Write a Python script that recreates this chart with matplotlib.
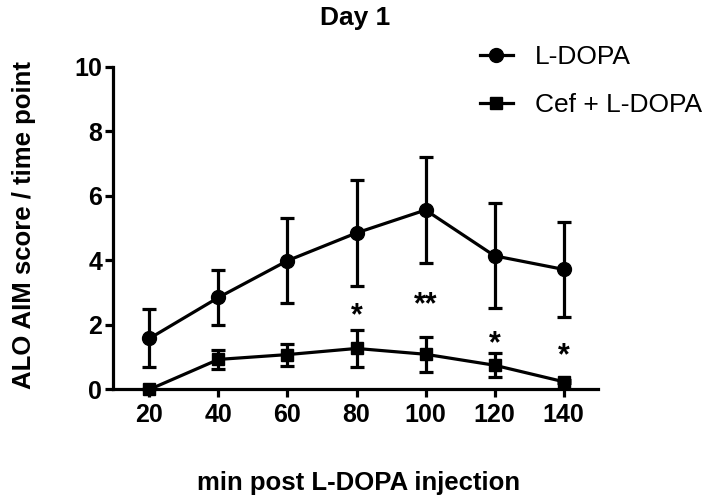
import matplotlib
matplotlib.use("Agg")
import matplotlib.pyplot as plt
from matplotlib.lines import Line2D

plt.rcParams['font.family'] = ['Liberation Sans', 'DejaVu Sans']

minutes = [20, 40, 60, 80, 100, 120, 140]
ldopa_mean = [1.58, 2.85, 3.99, 4.85, 5.56, 4.14, 3.72]
ldopa_err = [0.90, 0.85, 1.31, 1.63, 1.65, 1.63, 1.46]
cef_mean = [0.0, 0.93, 1.08, 1.27, 1.09, 0.75, 0.24]
cef_err = [0.0, 0.30, 0.34, 0.57, 0.54, 0.37, 0.05]
sig_x = [80, 100, 120, 140]
sig_labels = ["*", "**", "*", "*"]
sig_y = [2.26, 2.61, 1.40, 1.02]
xticks = [20, 40, 60, 80, 100, 120, 140]
yticks = [0, 2, 4, 6, 8, 10]

fig = plt.figure(figsize=(7.12, 4.98), dpi=100)
ax = fig.add_axes([0.159, 0.218, 0.681, 0.648])

lw = 2.3
ax.errorbar(minutes, ldopa_mean, yerr=ldopa_err, color='black', marker='o',
            markersize=10, linewidth=lw, elinewidth=lw, capsize=5, capthick=lw,
            clip_on=False, zorder=3)
ax.errorbar(minutes, cef_mean, yerr=cef_err, color='black', marker='s',
            markersize=9, linewidth=lw, elinewidth=lw, capsize=5, capthick=lw,
            clip_on=False, zorder=3)

for x, y, s in zip(sig_x, sig_y, sig_labels):
    ax.text(x, y, s, ha='center', va='center', fontsize=22, fontweight='bold')

ax.set_xlim(9.5, 150)
ax.set_ylim(0, 10)
ax.set_xticks(xticks)
ax.set_yticks(yticks)
for lab in ax.get_xticklabels() + ax.get_yticklabels():
    lab.set_fontweight('bold')
ax.tick_params(axis='both', labelsize=18, width=lw, length=6)
ax.tick_params(axis='x', pad=4)
ax.tick_params(axis='y', pad=2)
for side in ['top', 'right']:
    ax.spines[side].set_visible(False)
for side in ['left', 'bottom']:
    ax.spines[side].set_linewidth(lw)

ax.set_xlabel('min post L-DOPA injection', fontsize=18.5, fontweight='bold', va='baseline')
ax.xaxis.set_label_coords(0.505, -0.313)
ax.set_ylabel('ALO AIM score / time point', fontsize=18.5, fontweight='bold', va='center')
ax.yaxis.set_label_coords(-0.184, 0.51)
fig.text(0.499, 0.963, 'Day 1', ha='center', va='center', fontsize=19, fontweight='bold')

handles = [Line2D([], [], color='black', marker='o', markersize=10, linewidth=lw),
           Line2D([], [], color='black', marker='s', markersize=9, linewidth=lw)]
fig.legend(handles, ['L-DOPA', 'Cef + L-DOPA'], loc='upper left',
           bbox_to_anchor=(0.674, 0.909), frameon=False, fontsize=19,
           handlelength=1.25, handletextpad=0.85, labelspacing=0.89,
           borderpad=0, borderaxespad=0)

fig.savefig('out.png', dpi=100)
